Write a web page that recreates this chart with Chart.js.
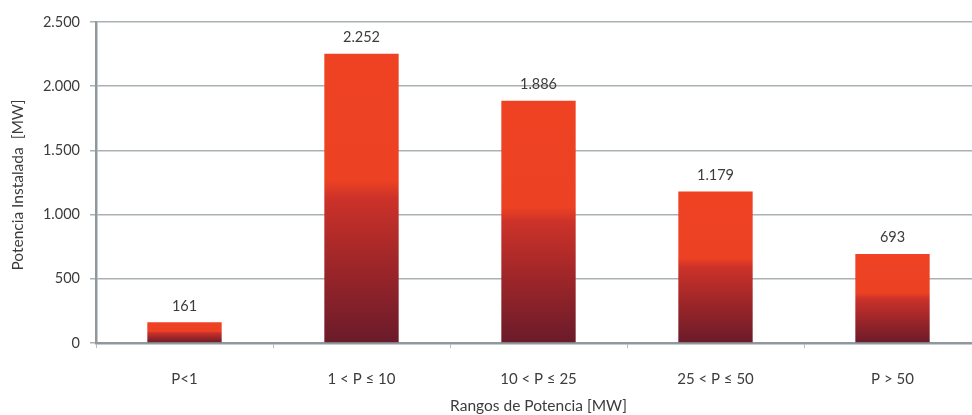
<!DOCTYPE html>
<html>
<head>
<meta charset="utf-8">
<script src="https://cdn.jsdelivr.net/npm/chart.js@4/dist/chart.umd.min.js"></script>
<style>
  html, body { margin: 0; padding: 0; background: #fff; overflow: hidden; }
  #wrap { width: 990px; height: 415px; position: relative; }
</style>
</head>
<body>
<div id="wrap"><canvas id="c"></canvas></div>
<script>
// Installed capacity by power range
const categories = ['P<1', '1 < P \u2264 10', '10 < P \u2264 25', '25 < P \u2264 50', 'P > 50'];
const capacityMW = [161, 2252, 1886, 1179, 693];
const yTicks = [0, 500, 1000, 1500, 2000, 2500];

const FONT = 'Lato, "Open Sans", sans-serif';
const TEXT = '#3c3c3c';
const fmt = v => v.toString().replace(/\B(?=(\d{3})+(?!\d))/g, '.');

// Vertical gradient for each bar: bright red-orange on top fading to maroon at the base
function barFill(ctx) {
  const chart = ctx.chart;
  const area = chart.chartArea;
  if (!area || ctx.dataIndex === undefined) return '#EC4123';
  const y = chart.scales.y;
  const top = y.getPixelForValue(capacityMW[ctx.dataIndex]);
  const base = y.getPixelForValue(0);
  const g = chart.ctx.createLinearGradient(0, top, 0, base);
  g.addColorStop(0, '#EE4223');
  g.addColorStop(0.44, '#EC4123');
  g.addColorStop(0.50, '#CC3229');
  g.addColorStop(0.75, '#9A2529');
  g.addColorStop(1, '#6A1B2A');
  return g;
}

// Value labels above bars and the two axis captions
const annotate = {
  id: 'annotate',
  afterDatasetsDraw(chart) {
    const c = chart.ctx;
    const a = chart.chartArea;
    const meta = chart.getDatasetMeta(0);
    c.save();
    c.font = '14.5px ' + FONT;
    c.fillStyle = TEXT;
    c.textAlign = 'center';
    c.textBaseline = 'bottom';
    meta.data.forEach((bar, i) => {
      c.fillText(fmt(capacityMW[i]), bar.x, bar.y - 9);
    });
    c.font = '15.5px ' + FONT;
    c.textBaseline = 'middle';
    c.fillText('Rangos de Potencia [MW]', (a.left + a.right) / 2, 406);
    c.translate(18, 185);
    c.rotate(-Math.PI / 2);
    c.fillText('Potencia Instalada  [MW]', 0, 0);
    c.restore();
  }
};

new Chart(document.getElementById('c'), {
  type: 'bar',
  data: {
    labels: categories,
    datasets: [{
      data: capacityMW,
      backgroundColor: barFill,
      borderWidth: 0,
      barPercentage: 0.42,
      categoryPercentage: 1
    }]
  },
  options: {
    responsive: true,
    maintainAspectRatio: false,
    animation: false,
    layout: { padding: { top: 22, right: 9, left: 0, bottom: 0 } },
    plugins: { legend: { display: false }, tooltip: { enabled: false } },
    scales: {
      x: {
        afterFit: s => { s.height = 72; },
        grid: {
          offset: true,
          drawOnChartArea: false,
          drawTicks: true,
          tickLength: 5,
          tickColor: '#b5bcc0'
        },
        border: { color: '#8E989D', width: 2.5 },
        ticks: {
          color: TEXT,
          font: { family: FONT, size: 15 },
          padding: 22
        }
      },
      y: {
        min: 0,
        max: 2500,
        afterFit: s => { s.width = 96; },
        afterBuildTicks: s => { s.ticks = yTicks.map(v => ({ value: v })); },
        grid: {
          color: '#A9B1B5',
          lineWidth: 1.5,
          drawTicks: true,
          tickLength: 6,
          tickColor: '#A9B1B5'
        },
        border: { color: '#8E989D', width: 2.5 },
        ticks: {
          color: TEXT,
          font: { family: FONT, size: 14.5 },
          padding: 10,
          callback: v => fmt(v)
        }
      }
    }
  },
  plugins: [annotate]
});
</script>
</body>
</html>
